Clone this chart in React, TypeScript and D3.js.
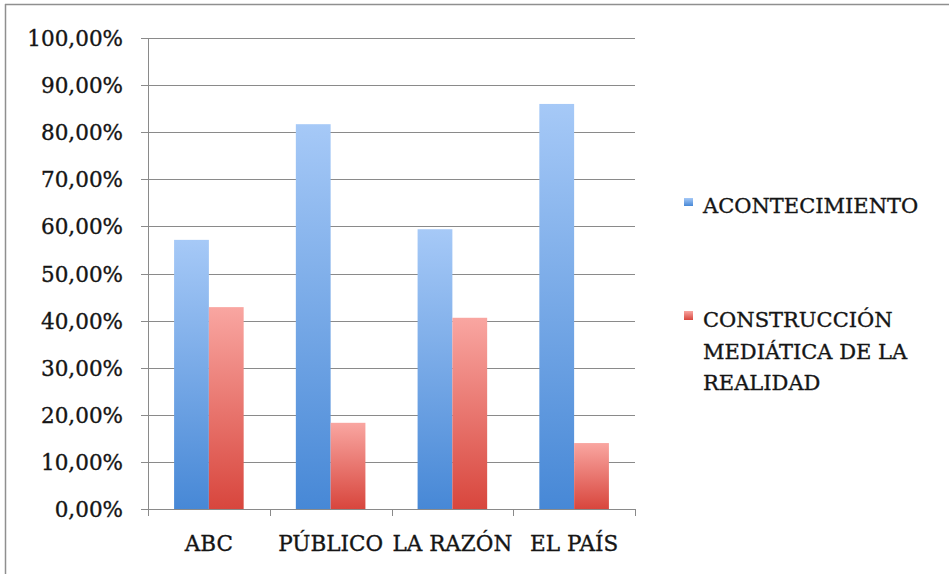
import React from "react";
import * as d3 from "d3";

const categories = ["ABC", "PÚBLICO", "LA RAZÓN", "EL PAÍS"];
const seriesNames = ["ACONTECIMIENTO", "CONSTRUCCIÓN MEDIÁTICA DE LA REALIDAD"];
const acontecimiento = [0.5714, 0.817, 0.594, 0.86];
const construccion = [0.4286, 0.183, 0.406, 0.14];
const yTicks = [0, 0.1, 0.2, 0.3, 0.4, 0.5, 0.6, 0.7, 0.8, 0.9, 1.0];
const legendLines = [["ACONTECIMIENTO"], ["CONSTRUCCIÓN", "MEDIÁTICA DE LA", "REALIDAD"]];

const W = 949;
const H = 574;
const FONT = "'DejaVu Serif', serif";
const TXT = "#151515";

export default function App() {
  const x = d3.scaleBand<string>().domain(categories).range([148, 635]).paddingInner(0).paddingOuter(0);
  const y = d3.scaleLinear().domain([0, 1]).range([509, 38]);
  const barW = x.bandwidth() / 3.5;
  const gap = barW * 0.75;
  const series = [acontecimiento, construccion];
  const fmt = (v: number) => d3.format(".2f")(v * 100).replace(".", ",") + "%";
  const textStyle = { stroke: TXT, strokeWidth: 0.35 } as React.CSSProperties;

  return (
    <svg width={W} height={H} style={{ position: "absolute", left: 0, top: 0, background: "#fff" }}>
      <defs>
        <linearGradient id="gBlue" x1="0" y1="0" x2="0" y2="1">
          <stop offset="0%" stopColor="#a6c9f7" />
          <stop offset="100%" stopColor="#4788d6" />
        </linearGradient>
        <linearGradient id="gRed" x1="0" y1="0" x2="0" y2="1">
          <stop offset="0%" stopColor="#f9a6a1" />
          <stop offset="100%" stopColor="#d8463d" />
        </linearGradient>
      </defs>
      <rect x={0} y={0} width={W} height={H} fill="#fff" />
      <line x1={5} x2={W} y1={4.5} y2={4.5} stroke="#8f8f8f" strokeWidth={1.5} />
      <line x1={5.5} x2={5.5} y1={4} y2={H} stroke="#8f8f8f" strokeWidth={1.5} />

      {yTicks.map((t) => (
        <g key={t}>
          <line x1={141} x2={635} y1={Math.round(y(t)) + 0.5} y2={Math.round(y(t)) + 0.5} stroke="#8a8a8a" strokeWidth={1} />
          <text x={123} y={y(t) + 8} textAnchor="end" fontFamily={FONT} fontSize={21.5} fill={TXT} style={textStyle}>
            {fmt(t)}
          </text>
        </g>
      ))}
      <line x1={148.5} x2={148.5} y1={y(1)} y2={y(0)} stroke="#8a8a8a" strokeWidth={1} />

      {categories.map((c, i) => (
        <g key={c}>
          {series.map((s, j) => (
            <rect
              key={j}
              x={(x(c) as number) + gap + j * barW}
              y={y(s[i])}
              width={barW}
              height={y(0) - y(s[i])}
              fill={j === 0 ? "url(#gBlue)" : "url(#gRed)"}
            />
          ))}
        </g>
      ))}

      {[...categories.map((c) => x(c) as number), 635].map((px, i) => (
        <line key={i} x1={Math.round(px) + 0.5} x2={Math.round(px) + 0.5} y1={509} y2={516} stroke="#8a8a8a" strokeWidth={1} />
      ))}
      {categories.map((c) => (
        <text key={c} x={(x(c) as number) + x.bandwidth() / 2} y={551} textAnchor="middle" fontFamily={FONT} fontSize={21.5} fill={TXT} style={textStyle}>
          {c}
        </text>
      ))}

      <g>
        <rect x={684} y={198} width={9} height={8} fill="url(#gBlue)" />
        <text x={703} y={213} fontFamily={FONT} fontSize={21} fill={TXT} style={textStyle}>{legendLines[0][0]}</text>
        <rect x={684} y={311} width={9} height={9} fill="url(#gRed)" />
        {legendLines[1].map((l, k) => (
          <text key={k} x={703} y={327 + k * 31.5} fontFamily={FONT} fontSize={21} fill={TXT} style={textStyle}>{l}</text>
        ))}
      </g>
    </svg>
  );
}
